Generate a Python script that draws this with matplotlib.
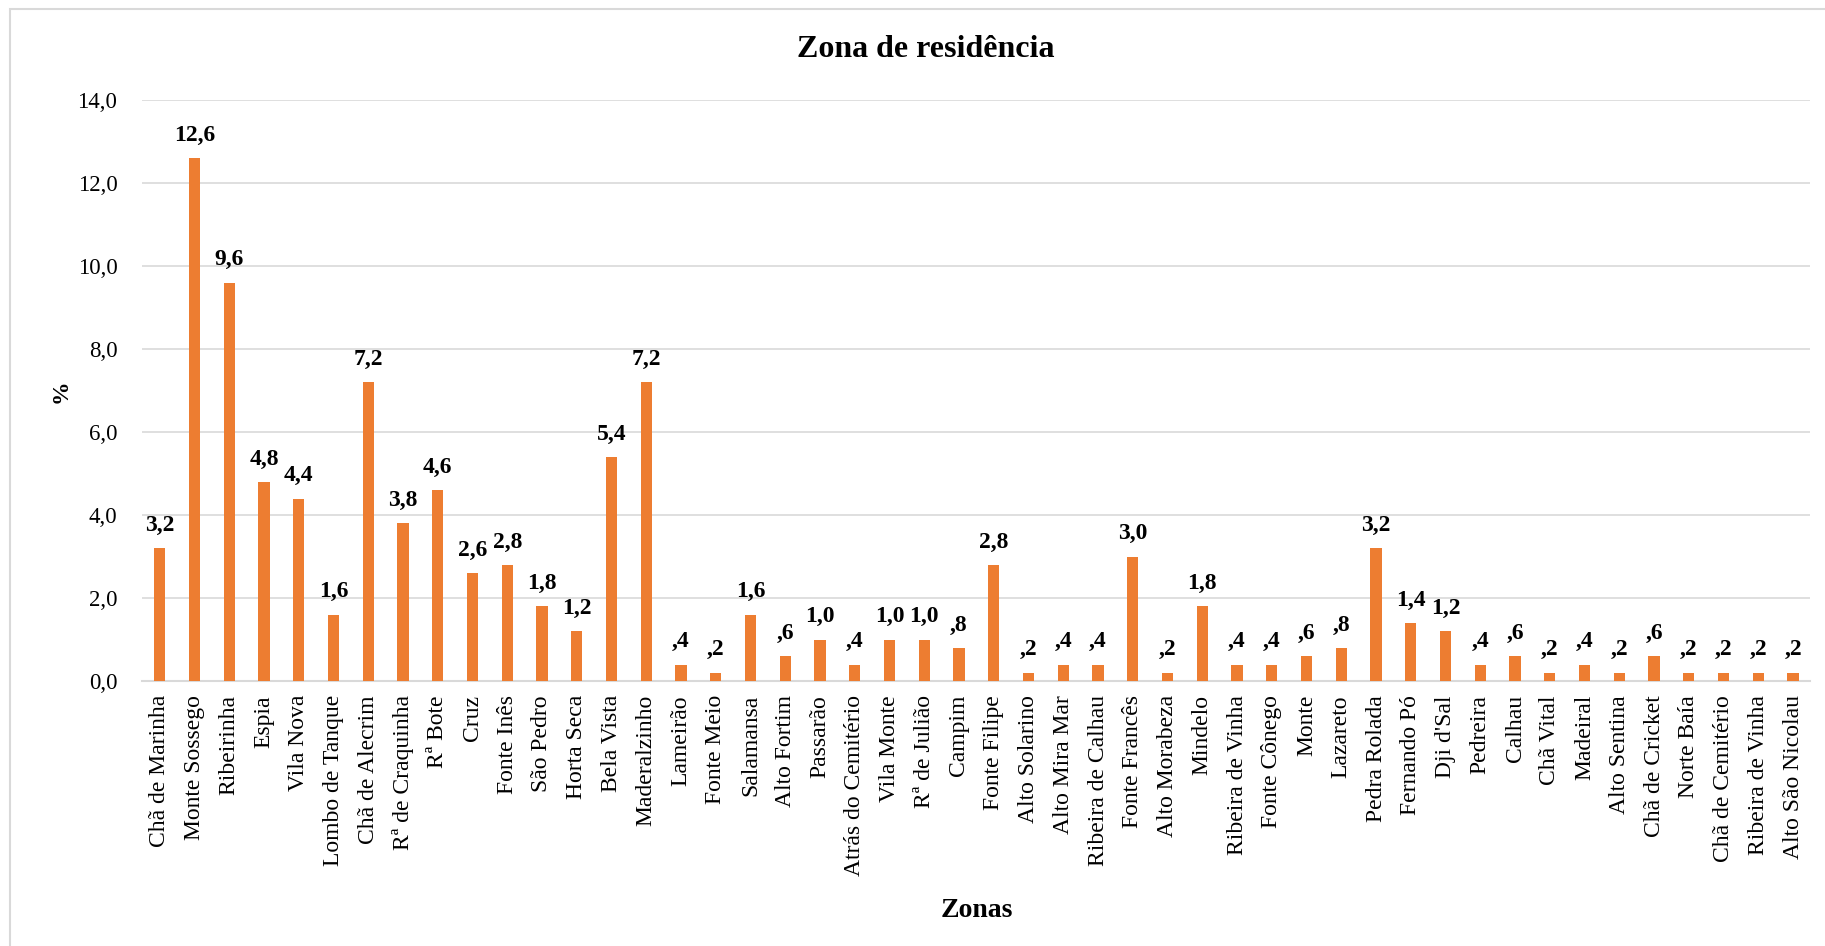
import numpy as np
import matplotlib
matplotlib.use("Agg")
import matplotlib.pyplot as plt
from matplotlib.patches import Rectangle

zonas = ["Chã de Marinha", "Monte Sossego", "Ribeirinha", "Espia", "Vila Nova",
         "Lombo de Tanque", "Chã de Alecrim", "Rª de Craquinha", "Rª Bote", "Cruz",
         "Fonte Inês", "São Pedro", "Horta Seca", "Bela Vista", "Maderalzinho",
         "Lameirão", "Fonte Meio", "Salamansa", "Alto Fortim", "Passarão",
         "Atrás do Cemitério", "Vila Monte", "Rª de Julião", "Campim", "Fonte Filipe",
         "Alto Solarino", "Alto Mira Mar", "Ribeira de Calhau", "Fonte Francês", "Alto Morabeza",
         "Mindelo", "Ribeira de Vinha", "Fonte Cônego", "Monte", "Lazareto",
         "Pedra Rolada", "Fernando Pó", "Dji d'Sal", "Pedreira", "Calhau",
         "Chã Vital", "Madeiral", "Alto Sentina", "Chã de Cricket", "Norte Baía",
         "Chã de Cemitério", "Ribeira de Vinha", "Alto São Nicolau"]
pct = [3.2, 12.6, 9.6, 4.8, 4.4, 1.6, 7.2, 3.8, 4.6, 2.6,
       2.8, 1.8, 1.2, 5.4, 7.2, 0.4, 0.2, 1.6, 0.6, 1.0,
       0.4, 1.0, 1.0, 0.8, 2.8, 0.2, 0.4, 0.4, 3.0, 0.2,
       1.8, 0.4, 0.4, 0.6, 0.8, 3.2, 1.4, 1.2, 0.4, 0.6,
       0.2, 0.4, 0.2, 0.6, 0.2, 0.2, 0.2, 0.2]
yticks = [0, 2, 4, 6, 8, 10, 12, 14]


def fmt(v):
    s = f"{v:.1f}".replace(".", ",")
    return s[1:] if s.startswith("0,") and v != 0 else s


plt.rcParams["font.family"] = ["Liberation Serif", "DejaVu Serif"]

fig = plt.figure(figsize=(18.25, 9.46), dpi=100)
ax = fig.add_axes([0.078, 0.28, 0.914, 0.614])

x = np.arange(len(zonas))
ax.bar(x, pct, width=0.32, color="#ED7D31", zorder=3)
for xi, v in zip(x, pct):
    ax.text(xi, v + 0.3, fmt(v), ha="center", va="bottom", fontsize=17, fontweight="bold")

ax.set_xlim(-0.5, len(zonas) - 0.5)
ax.set_ylim(0, 14)
ax.set_yticks(yticks)
ax.set_yticklabels([fmt(t) if t else "0,0" for t in yticks], fontsize=16.5)
ax.set_xticks(x)
ax.set_xticklabels(zonas, rotation=90, fontsize=17)
ax.tick_params(length=0, pad=10)
ax.tick_params(axis="y", pad=18)
ax.grid(True, axis="y", color="#D9D9D9", lw=1.2, zorder=0)
for s in ["top", "right", "left"]:
    ax.spines[s].set_visible(False)
ax.spines["bottom"].set_color("#D9D9D9")
ax.spines["bottom"].set_linewidth(1.5)

ax.set_ylabel("%", fontsize=17, fontweight="bold", labelpad=4)
ax.set_xlabel("Zonas", fontsize=20, fontweight="bold", labelpad=16)
fig.text(0.507, 0.948, "Zona de residência", ha="center", va="center",
         fontsize=23, fontweight="bold")

fig.patches.append(Rectangle((0.0055, -0.01), 1.2, 1.0005, transform=fig.transFigure,
                             fill=False, edgecolor="#D9D9D9", lw=1.5))

fig.savefig("out.png", dpi=100)
print("done")
